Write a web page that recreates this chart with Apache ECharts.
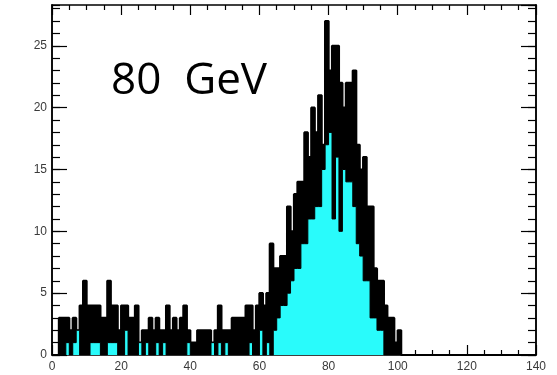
<!DOCTYPE html>
<html><head><meta charset="utf-8">
<script src="https://cdn.jsdelivr.net/npm/echarts@6/dist/echarts.min.js"></script>
<style>html,body{margin:0;padding:0;background:#fff}#c{width:557px;height:375px}</style>
</head><body><div id="c"></div>
<script>
// Histogram: 1 GeV bins from 0 to 140
const histStart = 0;
const binWidth = 1;
const xTickLabels = ['0','20','40','60','80','100','120','140'];
const yTickLabels = ['0','5','10','15','20','25'];
const annotation = '80  GeV';

// total counts (black histogram), bins 0..100 (rest empty)
const totalCounts = [
  0,0,3,3,3,2,3,2,4,6,   4,4,4,4,3,3,6,4,4,2,
  4,4,3,3,4,1,2,2,3,2,   3,2,2,4,2,3,2,3,4,2,
  1,1,2,2,2,2,1,2,4,2,   2,2,3,3,3,3,4,4,2,4,
  5,4,5,9,7,7,8,8,12,10, 13,14,14,18,16,20,18,21,17,27,
  23,25,25,22,20,22,22,23,17,15, 16,12,12,7,6,6,4,3,3,1,
  2
];
// subset counts (cyan histogram)
const cyanCounts = [
  0,0,0,0,1,0,1,2,0,0,   0,1,1,1,0,0,1,1,1,0,
  0,2,0,0,0,1,0,1,0,0,   1,0,1,0,0,0,0,0,0,1,
  0,0,0,0,0,0,1,0,1,0,   1,0,0,0,0,0,0,1,0,0,
  2,0,1,0,2,3,4,4,5,6,   7,7,9,9,11,11,12,12,15,17,
  18,11,16,10,15,14,14,12,9,8, 6,6,3,3,2,2,0,0,0,0,
  0
];

const nBins = 140;
function toSteps(counts){
  const pts = [];
  for (let i = 0; i < nBins; i++) {
    pts.push([histStart + i*binWidth, i < counts.length ? counts[i] : 0]);
  }
  pts.push([histStart + nBins*binWidth, 0]);
  return pts;
}

const chart = echarts.init(document.getElementById('c'), null, {renderer:'canvas'});
const labelFont = {color:'#3a3a3a', fontSize:12, fontFamily:'Liberation Sans'};
const rect = {left:52, right:21, top:5, bottom:20};
const yMax = 28.3;
const axLine = {show:true, onZero:false, lineStyle:{color:'#000', width:1.5}};
function xAx(pos, labels, grid){
  return {type:'value', gridIndex:grid, position:pos, min:0, max:140, interval:20,
    axisLine:axLine,
    axisTick:{show:true, inside:true, length:10, lineStyle:{color:'#000', width:1.2}},
    minorTick:{show:true, splitNumber:4, length:5, lineStyle:{color:'#000', width:1.2}},
    splitLine:{show:false}, minorSplitLine:{show:false},
    axisLabel: labels ? Object.assign({show:true, margin:6,
      formatter:(v)=>{const s=String(v); return xTickLabels.indexOf(s)>=0?s:'';}}, labelFont) : {show:false}
  };
}
function yAx(pos, labels, grid, interval, len){
  return {type:'value', gridIndex:grid, position:pos, min:0, max:yMax, interval:interval,
    axisLine:axLine,
    axisTick:{show:true, inside:true, length:len, lineStyle:{color:'#000', width:1.2}},
    splitLine:{show:false},
    axisLabel: labels ? Object.assign({show:true, margin:5, showMaxLabel:false,
      formatter:(v)=>{const s=String(v); return yTickLabels.indexOf(s)>=0?s:'';}}, labelFont) : {show:false}
  };
}

chart.setOption({
  animation:false,
  backgroundColor:'#fff',
  grid:[Object.assign({}, rect), Object.assign({}, rect)],
  xAxis:[xAx('bottom', true, 0), xAx('top', false, 0),
         {type:'value', gridIndex:1, min:0, max:140, show:false}],
  yAxis:[yAx('left', true, 0, 5, 15), yAx('right', false, 0, 5, 15),
         yAx('left', false, 1, 1, 8), yAx('right', false, 1, 1, 8)],
  series:[
    {type:'line', xAxisIndex:0, yAxisIndex:0, step:'end', symbol:'none', z:2,
     data: toSteps(totalCounts),
     lineStyle:{color:'#000', width:2.2}, areaStyle:{color:'#000', opacity:1}},
    {type:'line', xAxisIndex:0, yAxisIndex:0, step:'end', symbol:'none', z:3,
     data: toSteps(cyanCounts),
     lineStyle:{color:'#000', width:1}, areaStyle:{color:'#29fbfb', opacity:1}}
  ],
  graphic:[{type:'text', x:111, y:81, z:10,
    style:{text:annotation, font:'44px "Open Sans"', fill:'#000', verticalAlign:'middle'}}]
});
</script></body></html>
